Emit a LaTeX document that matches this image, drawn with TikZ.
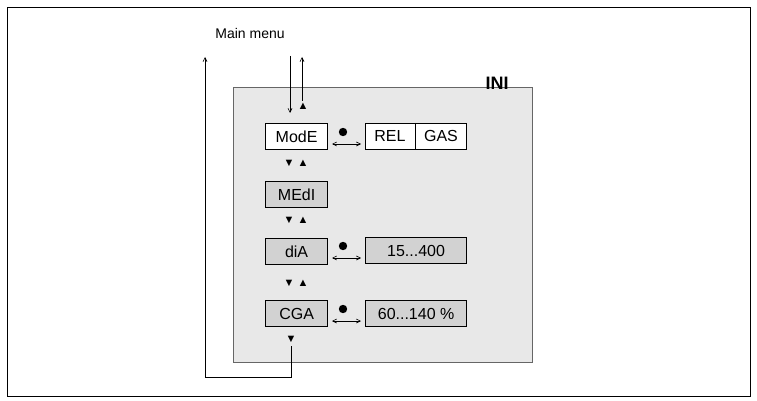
\documentclass[tikz,border=0pt]{standalone}
\usepackage{fontspec}
\setmainfont{Liberation Sans}
\usetikzlibrary{arrows.meta}
\begin{document}
\begin{tikzpicture}[x=1pt,y=-1pt,
 box/.style={draw,line width=1.2pt,minimum height=26pt,inner sep=0pt,font=\fontsize{16}{16}\selectfont},
 tri/.style={font=\fontsize{11}{11}\selectfont,inner sep=0pt},
 ln/.style={line width=0.6pt},
 ar/.style={ln,-{Straight Barb[length=4pt,width=4pt]}},
 dar/.style={ln,{Straight Barb[length=4pt,width=4pt]}-{Straight Barb[length=4pt,width=4pt]}}]
\useasboundingbox (0,0) rectangle (757,401);
\node[draw,line width=0.7pt,minimum width=743pt,minimum height=389pt,anchor=north west] (frame) at (7,7) {};
\node[draw=gray!80!black,line width=1pt,fill=gray!18,minimum width=299pt,minimum height=275pt,anchor=north west] (panel) at (233,87) {};
\node[font=\bfseries\fontsize{18}{18}\selectfont] (ini) at (497,83) {INI};
\node[font=\fontsize{14}{14}\selectfont] (mm) at (250,33) {Main menu};
% boxes
\node[box,fill=white,minimum width=62pt,anchor=north west] (mode) at (265,123) {ModE};
\node[box,fill=white,minimum width=101pt,anchor=north west] (relgas) at (365,123) {};
\node[font=\fontsize{16}{16}\selectfont] (rel) at (390,136) {REL};
\node[font=\fontsize{16}{16}\selectfont] (gas) at (441,136) {GAS};
\draw[line width=0.8pt] (415,123) coordinate (d1) -- (415,149) coordinate (d2);
\node[box,fill=gray!35,minimum width=62pt,anchor=north west] (medi) at (265,181) {MEdI};
\node[box,fill=gray!35,minimum width=62pt,anchor=north west] (dia) at (265,238) {diA};
\node[box,fill=gray!35,minimum width=101pt,anchor=north west] (r1) at (365,237) {15...400};
\node[box,fill=gray!35,minimum width=62pt,anchor=north west] (cga) at (265,300) {CGA};
\node[box,fill=gray!35,minimum width=101pt,anchor=north west] (r2) at (365,300) {60...140 \%};
% dots and double arrows
\foreach \y/\n in {132/a,246/b,309/c}{
 \fill (343,\y) circle (4.2pt);
 \coordinate (l\n) at (332,\y+12); \coordinate (r\n) at (361,\y+12);
 \draw[dar] (l\n) -- (r\n);}
% triangles
\node[tri] (t0) at (303,106) {▲};
\foreach \y/\n in {163/a,220/b,283/c}{
 \node[tri] (dn\n) at (289,\y) {▼};
 \node[tri] (up\n) at (303,\y) {▲};}
\node[tri] (tl) at (291,339) {▼};
% arrows to main menu
\coordinate (m1) at (290,56); \coordinate (m2) at (290,113);
\draw[ar] (m1) -- (m2);
\coordinate (u1) at (302,101); \coordinate (u2) at (302,57);
\draw[ar] (u1) -- (u2);
\coordinate (b1) at (291,346); \coordinate (b2) at (291,377);
\coordinate (b3) at (205,377); \coordinate (b4) at (205,57);
\draw[ar] (b1) -- (b2) -- (b3) -- (b4);
\end{tikzpicture}
\end{document}
